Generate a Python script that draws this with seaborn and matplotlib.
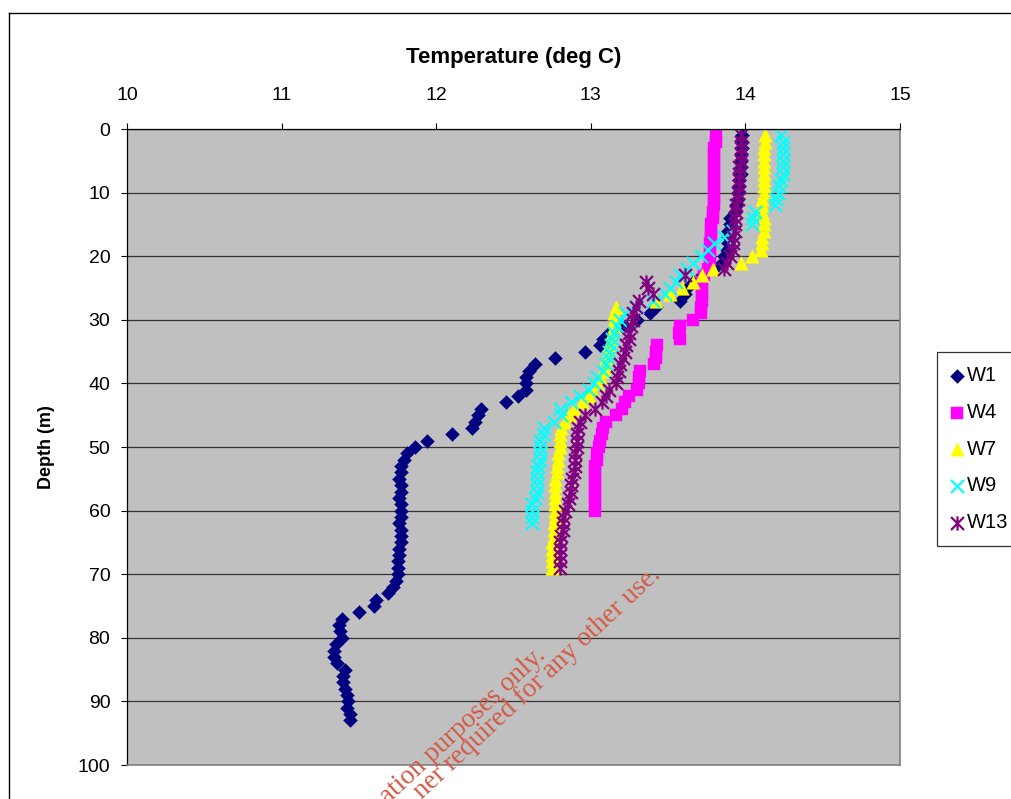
import numpy as np
import pandas as pd
import matplotlib
matplotlib.use('Agg')
import matplotlib.pyplot as plt
from matplotlib.path import Path
from matplotlib.lines import Line2D
import seaborn as sns

# temperature profiles (deg C) against depth (m)
w1_depth = [1, 2, 3, 4, 5, 6, 7, 8, 9, 10, 11, 12, 13, 14, 15, 16, 17, 18, 19, 20,
            21, 22, 23, 24, 25, 26, 27, 28, 29, 30, 31, 32, 33, 34, 35, 36, 37, 38, 39, 40,
            41, 42, 43, 44, 45, 46, 47, 48, 49, 50, 51, 52, 53, 54, 55, 56, 57, 58, 59, 60,
            61, 62, 63, 64, 65, 66, 67, 68, 69, 70, 71, 72, 73, 74, 75, 76, 77, 78, 79, 80,
            81, 82, 83, 84, 85, 86, 87, 88, 89, 90, 91, 92, 93]
w1_temp = [13.98, 13.98, 13.98, 13.97, 13.97, 13.97, 13.97, 13.96, 13.96, 13.95, 13.95, 13.94, 13.93,
           13.90, 13.90, 13.89, 13.89, 13.89, 13.88, 13.86, 13.85, 13.80, 13.72, 13.66, 13.62, 13.61, 13.58,
           13.42, 13.38, 13.30, 13.20, 13.12, 13.08, 13.06, 12.96, 12.77, 12.64, 12.60, 12.58, 12.58,
           12.58, 12.53, 12.45, 12.29, 12.27, 12.25, 12.23, 12.10, 11.94, 11.86, 11.81, 11.79,
           11.77, 11.77, 11.76, 11.77, 11.77, 11.76, 11.77, 11.77, 11.77, 11.76, 11.77, 11.77, 11.77, 11.76,
           11.76, 11.75,
           11.75, 11.75, 11.74, 11.72, 11.69, 11.61, 11.60, 11.50,
           11.39, 11.37, 11.38, 11.39, 11.35, 11.34, 11.34, 11.36, 11.41, 11.40, 11.40, 11.41, 11.42,
           11.43, 11.42, 11.44, 11.44]

w4_depth = [1, 2, 3, 4, 5, 6, 7, 8, 9, 10, 11, 12, 13, 14, 15, 16, 17, 18, 19, 20,
            21, 22, 23, 24, 25, 26, 27, 28, 29, 30, 31, 32, 33, 34, 35, 36, 37, 38, 39, 40,
            41, 42, 43, 44, 45, 46, 47, 48, 49, 50, 51, 52, 53, 54, 55, 56, 57, 58, 59, 60]
w4_temp = [13.81, 13.81, 13.80, 13.80, 13.80, 13.80, 13.80, 13.80, 13.80, 13.80, 13.80, 13.80, 13.79, 13.79,
           13.78, 13.78, 13.78, 13.77, 13.77, 13.77, 13.77, 13.76,
           13.73, 13.72, 13.72, 13.72, 13.72, 13.71, 13.71,
           13.66, 13.58, 13.57, 13.58, 13.43, 13.42, 13.42, 13.41,
           13.32, 13.31, 13.31, 13.30, 13.25, 13.22, 13.20, 13.16,
           13.10, 13.08, 13.07, 13.06, 13.05, 13.04, 13.04,
           13.03, 13.03, 13.03, 13.03, 13.03, 13.03, 13.03, 13.03]

w7_depth = [1, 2, 3, 4, 5, 6, 7, 8, 9, 10, 11, 12, 13, 14, 15, 16, 17, 18, 19, 20,
            21, 22, 23, 24, 25, 26, 27, 28, 29, 30, 31, 32, 33, 34, 35, 36, 37, 38, 39, 40,
            41, 42, 43, 44, 45, 46, 47, 48, 49, 50, 51, 52, 53, 54, 55, 56, 57, 58, 59, 60,
            61, 62, 63, 64, 65, 66, 67, 68, 69]
w7_temp = [14.13, 14.13, 14.12, 14.12, 14.12, 14.12, 14.12, 14.12, 14.12, 14.12, 14.11, 14.11, 14.11,
           14.12, 14.12, 14.12, 14.11, 14.11, 14.10,
           14.04, 13.97, 13.79, 13.72, 13.66, 13.59, 13.51, 13.42,
           13.16, 13.15, 13.15, 13.15, 13.14, 13.13, 13.12, 13.11, 13.10, 13.10, 13.09,
           13.06, 13.04, 13.01, 12.99, 12.94, 12.89, 12.86, 12.83, 12.81, 12.80,
           12.80, 12.80, 12.79, 12.79, 12.78, 12.78, 12.77, 12.77, 12.77, 12.77,
           12.77, 12.77, 12.77, 12.76, 12.76, 12.76, 12.75, 12.75, 12.75, 12.75, 12.75]

w9_depth = [1, 2, 3, 4, 5, 6, 7, 8, 9, 10, 11, 12, 13, 14, 15, 16, 17, 18, 19, 20,
            21, 22, 23, 24, 25, 26, 27, 28, 29, 30, 31, 32, 33, 34, 35, 36, 37, 38, 39, 40,
            41, 42, 43, 44, 45, 46, 47, 48, 49, 50, 51, 52, 53, 54, 55, 56, 57, 58, 59, 60,
            61, 62]
w9_temp = [14.23, 14.24, 14.24, 14.24, 14.24, 14.24, 14.24, 14.23, 14.22, 14.21, 14.20, 14.19,
           14.06, 14.05, 14.04, 13.92, 13.86, 13.80, 13.76, 13.71, 13.66, 13.62, 13.58, 13.55,
           13.51, 13.48, 13.40, 13.30, 13.22, 13.19,
           13.17, 13.15, 13.14, 13.13, 13.12, 13.11, 13.10, 13.08, 13.04, 13.02,
           12.99, 12.93, 12.87, 12.80, 12.81, 12.76, 12.70, 12.69, 12.67, 12.67,
           12.67, 12.67, 12.66, 12.65, 12.65, 12.65, 12.65, 12.64, 12.62, 12.62, 12.62, 12.62]

w13_depth = [1, 2, 3, 4, 5, 6, 7, 8, 9, 10, 11, 12, 13, 14, 15, 16, 17, 18, 19, 20,
             21, 22, 23, 24, 25, 26, 27, 28, 29, 30, 31, 32, 33, 34, 35, 36, 37, 38, 39, 40,
             41, 42, 43, 44, 45, 46, 47, 48, 49, 50, 51, 52, 53, 54, 55, 56, 57, 58, 59, 60,
             61, 62, 63, 64, 65, 66, 67, 68, 69]
w13_temp = [13.97, 13.97, 13.97, 13.97, 13.97, 13.96, 13.96, 13.96, 13.96, 13.95, 13.95, 13.94, 13.94,
            13.93, 13.93, 13.93, 13.92, 13.92, 13.92,
            13.90, 13.88, 13.86, 13.61, 13.36, 13.37, 13.40, 13.31, 13.29, 13.27, 13.27, 13.26,
            13.25, 13.25, 13.23, 13.22, 13.21, 13.19, 13.18, 13.17, 13.16,
            13.12, 13.10, 13.07, 13.03, 12.96, 12.93, 12.92,
            12.91, 12.91, 12.91, 12.90, 12.90, 12.90, 12.89,
            12.88, 12.87, 12.87, 12.86, 12.85, 12.83, 12.82, 12.82, 12.82, 12.81, 12.80, 12.80,
            12.80, 12.80, 12.80]

wells = ['W1', 'W4', 'W7', 'W9', 'W13']
depths = [w1_depth, w4_depth, w7_depth, w9_depth, w13_depth]
temps = [w1_temp, w4_temp, w7_temp, w9_temp, w13_temp]

df = pd.concat([pd.DataFrame({'well': w, 'depth': d, 'temp': t})
                for w, d, t in zip(wells, depths, temps)], ignore_index=True)

# excel style star: an x with a vertical bar through it
star = Path([(-1, -1), (1, 1), (-1, 1), (1, -1), (0, -1.1), (0, 1.1)],
            [Path.MOVETO, Path.LINETO, Path.MOVETO, Path.LINETO, Path.MOVETO, Path.LINETO])

style = {
    'W1': dict(color='#000080', marker='D', s=50, linewidth=0.3),
    'W4': dict(color='#FF00FF', marker='s', s=85, linewidth=0.3),
    'W7': dict(color='#FFFF00', marker='^', s=95, linewidth=0.3),
    'W9': dict(color='#00FFFF', marker='x', s=90, linewidth=1.5),
    'W13': dict(color='#800080', marker=star, s=105, linewidth=1.6),
}

plt.rcParams['font.family'] = ['Liberation Sans', 'DejaVu Sans']

W, H = 1011, 799
fig = plt.figure(figsize=(W / 100, H / 100), dpi=100)
ax = fig.add_axes([127 / W, 1 - 765 / H, (900 - 127) / W, (765 - 129) / H])
ax.set_facecolor('#C0C0C0')

for w in wells:
    st = style[w]
    sns.scatterplot(data=df[df['well'] == w], x='temp', y='depth',
                    marker=st['marker'], color=st['color'], edgecolor=st['color'],
                    s=st['s'], linewidth=st['linewidth'], label=w, ax=ax, zorder=3,
                    legend=False)

ax.set_xlim(10, 15)
ax.set_ylim(100, 0)
ax.set_xticks(np.arange(10, 16, 1))
ax.set_yticks(np.arange(0, 101, 10))
ax.xaxis.tick_top()
ax.xaxis.set_label_position('top')
ax.tick_params(axis='x', top=True, bottom=False, direction='out', length=4, width=0.8,
               labelsize=14, pad=14)
ax.tick_params(axis='y', left=True, direction='out', length=4, width=0.8,
               labelsize=14, pad=8)

ax.set_axisbelow(True)
ax.yaxis.grid(True, color='#333333', linewidth=0.9)
ax.xaxis.grid(False)

for side in ['left', 'top']:
    ax.spines[side].set_color('black')
    ax.spines[side].set_linewidth(0.9)
for side in ['bottom', 'right']:
    ax.spines[side].set_color('#808080')
    ax.spines[side].set_linewidth(1.2)
for sp in ax.spines.values():
    sp.set_zorder(4)

ax.set_xlabel('Temperature (deg C)', fontsize=16, fontweight='bold', labelpad=17)
ax.set_ylabel('Depth (m)', fontsize=13, fontweight='bold', labelpad=16)

handles, labels = ax.get_legend_handles_labels()
leg = fig.legend(handles, labels, loc='upper left', bbox_to_anchor=(937 / W, 1 - 352 / H),
                 fontsize=14.5, frameon=True, fancybox=False, edgecolor='black',
                 handlelength=0.6, handletextpad=0.2, labelspacing=0.88, borderpad=0.7,
                 borderaxespad=0, scatterpoints=1)
leg.get_frame().set_linewidth(0.9)

# chart area border (runs off the right and bottom edges)
fig.add_artist(Line2D([9 / W, 1], [1 - 13 / H, 1 - 13 / H], color='black', linewidth=1))
fig.add_artist(Line2D([9 / W, 9 / W], [0, 1 - 13 / H], color='black', linewidth=1))

# watermark fragments, cut by the lower edge as in the source image
wm = dict(color='#D35A46', fontsize=19.5, family=['Liberation Serif', 'DejaVu Serif'],
          rotation=43, rotation_mode='anchor', ha='right', va='baseline', zorder=10)
fig.text(547 / W, 1 - 657 / H, 'ation purposes only.', **wm)
fig.text(662 / W, 1 - 576 / H, 'ner required for any other use.', **wm)

fig.savefig('out.png', dpi=100)
